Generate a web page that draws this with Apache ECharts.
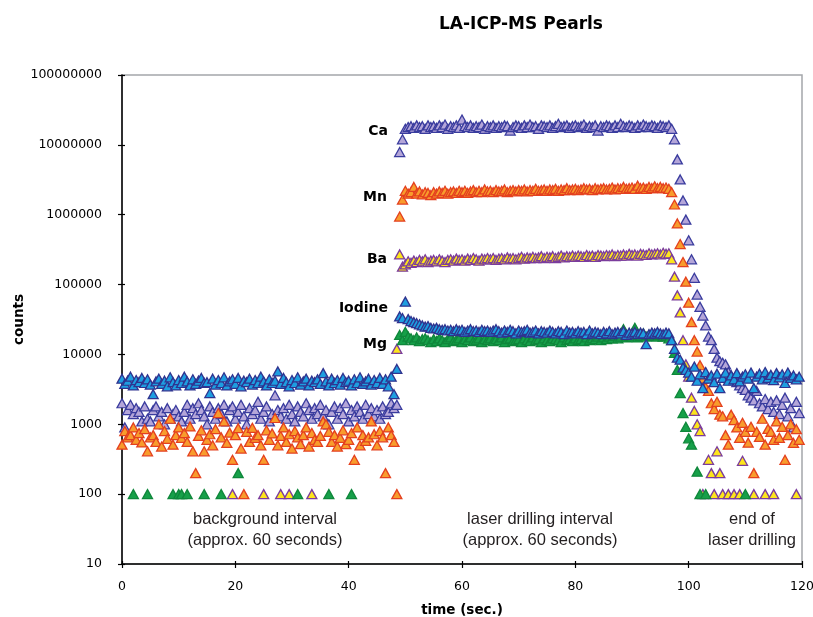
<!DOCTYPE html>
<html>
<head>
<meta charset="utf-8">
<title>LA-ICP-MS Pearls</title>
<script src="https://cdn.jsdelivr.net/npm/echarts@6/dist/echarts.min.js"></script>
<style>
    html, body { margin: 0; padding: 0; background: #fff; }
    #chart { width: 813px; height: 617px; }
</style>
</head>
<body>
<div id="chart"></div>
<script>
// sweep times (sec.)
const times = [
    0, 0.5, 1, 1.5, 2, 2.5, 3, 3.5, 4, 4.5,
    5, 5.5, 6, 6.5, 7, 7.5, 8, 8.5, 9, 9.5,
    10, 10.5, 11, 11.5, 12, 12.5, 13, 13.5, 14, 14.5,
    15, 15.5, 16, 16.5, 17, 17.5, 18, 18.5, 19, 19.5,
    20, 20.5, 21, 21.5, 22, 22.5, 23, 23.5, 24, 24.5,
    25, 25.5, 26, 26.5, 27, 27.5, 28, 28.5, 29, 29.5,
    30, 30.5, 31, 31.5, 32, 32.5, 33, 33.5, 34, 34.5,
    35, 35.5, 36, 36.5, 37, 37.5, 38, 38.5, 39, 39.5,
    40, 40.5, 41, 41.5, 42, 42.5, 43, 43.5, 44, 44.5,
    45, 45.5, 46, 46.5, 47, 47.5, 48, 48.5, 49, 49.5,
    50, 50.5, 51, 51.5, 52, 52.5, 53, 53.5, 54, 54.5,
    55, 55.5, 56, 56.5, 57, 57.5, 58, 58.5, 59, 59.5,
    60, 60.5, 61, 61.5, 62, 62.5, 63, 63.5, 64, 64.5,
    65, 65.5, 66, 66.5, 67, 67.5, 68, 68.5, 69, 69.5,
    70, 70.5, 71, 71.5, 72, 72.5, 73, 73.5, 74, 74.5,
    75, 75.5, 76, 76.5, 77, 77.5, 78, 78.5, 79, 79.5,
    80, 80.5, 81, 81.5, 82, 82.5, 83, 83.5, 84, 84.5,
    85, 85.5, 86, 86.5, 87, 87.5, 88, 88.5, 89, 89.5,
    90, 90.5, 91, 91.5, 92, 92.5, 93, 93.5, 94, 94.5,
    95, 95.5, 96, 96.5, 97, 97.5, 98, 98.5, 99, 99.5,
    100, 100.5, 101, 101.5, 102, 102.5, 103, 103.5, 104, 104.5,
    105, 105.5, 106, 106.5, 107, 107.5, 108, 108.5, 109, 109.5,
    110, 110.5, 111, 111.5, 112, 112.5, 113, 113.5, 114, 114.5,
    115, 115.5, 116, 116.5, 117, 117.5, 118, 118.5, 119, 119.5
];

// counts per element, one value per sweep (null = zero counts, not plotted on log axis)
const ca = [
    2000, 900, 1600, 1900, 1400, 1700, 1500, 1100, 1800, 1200,
    1100, 1600, 1800, 1300, 1500, 1000, 1700, 1200, 1400, 1600,
    1300, 1100, 1500, 1900, 1200, 1700, 1400, 2000, 1600, 1300,
    1000, 1800, 1500, 1200, 1700, 1400, 1900, 1100, 1600, 1800,
    1200, 1500, 1900, 1300, 1000, 1700, 1400, 1600, 2100, 1200,
    1500, 1800, 1100, 1400, 2600, 1600, 1300, 1700, 1200, 1900,
    1400, 1100, 1800, 1500, 1300, 2000, 1600, 1200, 1700, 1400,
    1900, 1300, 1600, 1000, 1500, 1800, 1200, 1700, 1400, 2000,
    1100, 1600, 1300, 1800, 1500, 1200, 1900, 1400, 1700, 1300,
    1600, 1200, 1800, 1400, 1500, 2000, 1700, 1900, 7.9e6, 1.2e7,
    1.7e7, 1.8e7, 1.85e7, 1.75e7, 1.9e7, 1.8e7, 1.85e7, 1.7e7, 1.9e7, 1.8e7,
    1.85e7, 1.75e7, 1.9e7, 1.8e7, 1.95e7, 1.7e7, 1.85e7, 1.8e7, 1.9e7, 1.75e7,
    2.3e7, 1.85e7, 1.8e7, 1.9e7, 1.75e7, 1.85e7, 1.8e7, 1.95e7, 1.7e7, 1.85e7,
    1.8e7, 1.9e7, 1.75e7, 1.85e7, 1.8e7, 1.9e7, 1.85e7, 1.6e7, 1.8e7, 1.9e7,
    1.85e7, 1.75e7, 1.9e7, 1.8e7, 1.95e7, 1.8e7, 1.85e7, 1.7e7, 1.9e7, 1.85e7,
    1.8e7, 1.9e7, 1.75e7, 1.85e7, 2.0e7, 1.8e7, 1.85e7, 1.9e7, 1.75e7, 1.85e7,
    1.9e7, 1.8e7, 1.85e7, 1.95e7, 1.75e7, 1.85e7, 1.8e7, 1.9e7, 1.6e7, 1.85e7,
    1.8e7, 1.9e7, 1.85e7, 1.75e7, 1.9e7, 1.8e7, 2.0e7, 1.85e7, 1.8e7, 1.9e7,
    1.85e7, 1.75e7, 1.9e7, 1.8e7, 1.95e7, 1.85e7, 1.8e7, 1.9e7, 1.85e7, 1.75e7,
    1.9e7, 1.85e7, 1.8e7, 1.9e7, 1.7e7, 1.2e7, 6.2e6, 3.2e6, 1.6e6, 8.5e5,
    4.3e5, 2.3e5, 1.25e5, 7.2e4, 4.8e4, 3.6e4, 2.6e4, 1.8e4, 1.6e4, 1.2e4,
    9000, 8000, 7600, 7200, 5600, 5000, 4300, 4000, 3600, 3300,
    3100, 2600, 2400, 2200, 3000, 2000, 1800, 2300, 1650, 2100,
    1500, 2200, 1400, 1900, 2400, 1300, 1700, 900, 2100, 1450
];

const mn = [
    510, 800, 650, 700, 900, 600, 750, 550, 850, 410,
    650, 700, 560, 1000, 480, 800, 620, 1200, 510, 700,
    900, 640, 750, 560, 930, 410, 200, 680, 820, 410,
    600, 720, 500, 850, 1450, 650, 1100, 540, 760, 310,
    700, 880, 450, 100, 780, 560, 890, 640, 700, 500,
    310, 820, 600, 740, 1230, 500, 680, 900, 560, 720,
    450, 800, 650, 520, 700, 900, 480, 750, 600, 560,
    680, 1100, 1000, 780, 560, 700, 480, 640, 820, 520,
    600, 750, 310, 900, 500, 700, 580, 650, 1100, 720,
    500, 800, 650, 200, 900, 700, 560, 100, 9.4e5, 1.65e6,
    2.2e6, 2.0e6, 2.1e6, 2.5e6, 2.0e6, 2.15e6, 1.95e6, 2.1e6, 2.05e6, 1.9e6,
    2.1e6, 2.0e6, 2.15e6, 2.05e6, 2.2e6, 2.0e6, 2.1e6, 2.15e6, 2.05e6, 2.2e6,
    2.1e6, 2.2e6, 2.05e6, 2.15e6, 2.25e6, 2.1e6, 2.2e6, 2.1e6, 2.3e6, 2.15e6,
    2.2e6, 2.1e6, 2.25e6, 2.15e6, 2.2e6, 2.3e6, 2.1e6, 2.2e6, 2.25e6, 2.15e6,
    2.25e6, 2.2e6, 2.3e6, 2.15e6, 2.25e6, 2.2e6, 2.35e6, 2.2e6, 2.25e6, 2.3e6,
    2.2e6, 2.3e6, 2.25e6, 2.35e6, 2.2e6, 2.3e6, 2.25e6, 2.4e6, 2.25e6, 2.3e6,
    2.35e6, 2.25e6, 2.3e6, 2.4e6, 2.3e6, 2.35e6, 2.25e6, 2.4e6, 2.3e6, 2.35e6,
    2.4e6, 2.3e6, 2.35e6, 2.45e6, 2.3e6, 2.4e6, 2.35e6, 2.5e6, 2.35e6, 2.4e6,
    2.45e6, 2.35e6, 2.6e6, 2.4e6, 2.45e6, 2.35e6, 2.5e6, 2.4e6, 2.55e6, 2.4e6,
    2.5e6, 2.4e6, 2.45e6, 2.35e6, 2.1e6, 1.4e6, 7.5e5, 3.8e5, 2.1e5, 1.1e5,
    5.5e4, 2.9e4, 1.6e4, 1.1e4, 7000, 4500, 3400, 3000, 2000, 1650,
    2100, 1370, 1300, 700, 510, 1370, 1150, 900, 640, 1050,
    780, 545, 920, 200, 780, 660, 1200, 510, 860, 780,
    600, 1100, 640, 920, 310, 700, 1000, 540, 850, 600
];

const ba = [
    null, null, null, null, null, null, null, null, null, null,
    null, null, null, null, null, null, null, null, null, null,
    null, null, null, null, null, null, null, null, null, null,
    null, null, null, null, null, null, null, null, null, 100,
    null, null, null, null, null, null, null, null, null, null,
    100, null, null, null, null, null, 100, null, null, 100,
    null, null, null, null, null, null, null, 100, null, null,
    null, null, null, null, null, null, null, null, null, null,
    null, null, null, null, null, null, null, null, null, null,
    null, null, null, null, null, null, null, 1.2e4, 2.7e5, 1.8e5,
    1.95e5, 2.15e5, 2.05e5, 2.2e5, 2.1e5, 2.25e5, 2.15e5, 2.3e5, 2.1e5, 2.2e5,
    2.25e5, 2.15e5, 2.3e5, 2.2e5, 2.1e5, 2.25e5, 2.3e5, 2.2e5, 2.35e5, 2.25e5,
    2.3e5, 2.2e5, 2.35e5, 2.25e5, 2.4e5, 2.3e5, 2.2e5, 2.35e5, 2.3e5, 2.4e5,
    2.3e5, 2.4e5, 2.25e5, 2.35e5, 2.4e5, 2.3e5, 2.45e5, 2.35e5, 2.4e5, 2.3e5,
    2.4e5, 2.5e5, 2.35e5, 2.45e5, 2.4e5, 2.5e5, 2.4e5, 2.45e5, 2.55e5, 2.4e5,
    2.5e5, 2.45e5, 2.55e5, 2.4e5, 2.5e5, 2.6e5, 2.45e5, 2.55e5, 2.5e5, 2.6e5,
    2.5e5, 2.6e5, 2.55e5, 2.5e5, 2.65e5, 2.55e5, 2.6e5, 2.5e5, 2.65e5, 2.6e5,
    2.55e5, 2.65e5, 2.6e5, 2.7e5, 2.55e5, 2.65e5, 2.6e5, 2.7e5, 2.6e5, 2.75e5,
    2.65e5, 2.7e5, 2.6e5, 2.75e5, 2.7e5, 2.65e5, 2.8e5, 2.7e5, 2.75e5, 2.8e5,
    2.7e5, 2.85e5, 2.75e5, 2.8e5, 2.3e5, 1.3e5, 7.0e4, 4.0e4, 1.6e4, 7200,
    4800, 2400, 1550, 1000, 800, 100, null, 310, 200, 100,
    410, 200, 100, null, 100, null, 100, null, 100, 300,
    null, null, null, 100, null, null, null, 100, null, null,
    100, null, null, null, null, null, null, null, 100, null
];

const iodine = [
    4500, 3800, 4200, 4800, 3600, 4300, 4000, 4600, 3900, 4400,
    3700, 2700, 4100, 4500, 3800, 4200, 3500, 4700, 4000, 3600,
    4300, 3900, 4800, 4100, 3600, 4400, 3800, 4200, 4600, 3900,
    4000, 2800, 4500, 3700, 4300, 3900, 4700, 3600, 4100, 4400,
    3800, 4600, 3500, 4200, 4000, 4500, 3700, 4300, 3900, 4800,
    4100, 3600, 4400, 3900, 4200, 5700, 3800, 4600, 4000, 3500,
    4300, 3900, 4700, 3700, 4100, 4500, 3600, 4200, 4000, 4400,
    3800, 5400, 4100, 3600, 4500, 3900, 4300, 3700, 4600, 4000,
    4200, 3600, 4400, 3900, 4700, 3800, 4100, 4500, 3700, 4300,
    3900, 4600, 3800, 4400, 3500, 4800, 2700, 6200, 3.5e4, 3.3e4,
    5.7e4, 3.2e4, 3.0e4, 2.9e4, 2.8e4, 2.7e4, 2.6e4, 2.5e4, 2.55e4, 2.4e4,
    2.35e4, 2.4e4, 2.3e4, 2.25e4, 2.3e4, 2.2e4, 2.25e4, 2.15e4, 2.3e4, 2.2e4,
    2.25e4, 2.1e4, 2.2e4, 2.3e4, 2.15e4, 2.2e4, 2.1e4, 2.25e4, 2.15e4, 2.2e4,
    2.1e4, 2.2e4, 2.3e4, 2.15e4, 2.05e4, 2.2e4, 2.1e4, 2.25e4, 2.15e4, 2.0e4,
    2.2e4, 2.1e4, 2.15e4, 2.25e4, 2.05e4, 2.1e4, 2.2e4, 2.0e4, 2.15e4, 2.1e4,
    2.05e4, 2.2e4, 2.1e4, 2.0e4, 2.15e4, 2.1e4, 1.95e4, 2.2e4, 2.05e4, 2.1e4,
    2.0e4, 2.15e4, 2.05e4, 2.1e4, 1.95e4, 2.2e4, 2.0e4, 2.1e4, 2.05e4, 1.95e4,
    2.1e4, 2.0e4, 2.15e4, 1.95e4, 2.05e4, 2.1e4, 2.0e4, 2.15e4, 1.9e4, 2.05e4,
    2.0e4, 2.1e4, 1.95e4, 2.05e4, 2.0e4, 1.4e4, 1.95e4, 2.05e4, 2.0e4, 2.1e4,
    2.0e4, 1.95e4, 2.05e4, 2.0e4, 1.6e4, 1.2e4, 9000, 8400, 6500, 6000,
    5500, 4800, 6700, 4200, 5200, 3300, 5600, 4500, 5000, 4000,
    5300, 3300, 4600, 5500, 4200, 5000, 4400, 5400, 4100, 4800,
    5200, 4500, 5500, 3300, 4800, 5300, 4400, 5600, 4600, 5100,
    4300, 5400, 4700, 5200, 3900, 5500, 4600, 5000, 4400, 4800
];

const mg = [
    null, null, null, null, 100, null, null, null, null, 100,
    null, null, null, null, null, null, null, null, 100, null,
    100, 100, null, 100, null, null, null, null, null, 100,
    null, null, null, null, null, 100, null, null, null, null,
    null, 200, null, null, null, null, null, null, null, null,
    null, null, null, null, null, null, null, null, null, null,
    null, null, 100, null, null, null, null, null, null, null,
    null, null, null, 100, null, null, null, null, null, null,
    null, 100, null, null, null, null, null, null, null, null,
    null, null, null, null, null, null, null, null, 1.9e4, 1.6e4,
    2.1e4, 1.8e4, 1.7e4, 1.6e4, 1.75e4, 1.55e4, 1.65e4, 1.7e4, 1.6e4, 1.5e4,
    1.65e4, 1.55e4, 1.7e4, 1.6e4, 1.5e4, 1.65e4, 1.75e4, 1.55e4, 1.6e4, 1.7e4,
    1.5e4, 1.65e4, 1.6e4, 1.75e4, 1.55e4, 1.6e4, 1.7e4, 1.5e4, 1.65e4, 1.6e4,
    1.7e4, 1.55e4, 1.65e4, 1.6e4, 1.75e4, 1.5e4, 1.65e4, 1.7e4, 1.55e4, 1.6e4,
    1.65e4, 1.5e4, 1.7e4, 1.6e4, 1.55e4, 1.75e4, 1.6e4, 1.65e4, 1.5e4, 1.7e4,
    1.6e4, 1.55e4, 1.7e4, 1.65e4, 1.6e4, 1.5e4, 1.75e4, 1.6e4, 1.65e4, 1.55e4,
    1.7e4, 1.6e4, 1.65e4, 1.55e4, 1.75e4, 1.6e4, 1.7e4, 1.65e4, 1.8e4, 1.6e4,
    1.75e4, 1.65e4, 1.8e4, 1.7e4, 1.85e4, 1.7e4, 1.8e4, 2.3e4, 1.75e4, 1.85e4,
    1.8e4, 2.4e4, 1.75e4, 1.85e4, 2.0e4, 1.8e4, 1.9e4, 1.85e4, 1.95e4, 1.8e4,
    1.9e4, 1.8e4, 1.85e4, 1.7e4, 1.6e4, 1.05e4, 6000, 2800, 1450, 920,
    630, 510, null, 210, 100, null, 100, null, null, null,
    null, null, null, null, null, null, null, null, null, null,
    100, null, null, null, null, null, null, null, null, null,
    null, null, null, null, null, null, null, null, null, null
];

const xTicks = [0, 20, 40, 60, 80, 100, 120];
const yMin = 10;
const yMax = 100000000;

const elements = [
    { name: 'Ca', values: ca, fill: '#b4a6d9', stroke: '#3a3c9e' },
    { name: 'Ba', values: ba, fill: '#fde51c', stroke: '#7b3c9c' },
    { name: 'Mg', values: mg, fill: '#16a049', stroke: '#0f873b' },
    { name: 'Mn', values: mn, fill: '#f89c2c', stroke: '#e4401f' },
    { name: 'Iodine', values: iodine, fill: '#1e9ee0', stroke: '#2f338f' }
];

const annotations = [
    { text: 'Ca', x: 388, y: 131 },
    { text: 'Mn', x: 387, y: 197 },
    { text: 'Ba', x: 387, y: 259 },
    { text: 'Iodine', x: 388, y: 308 },
    { text: 'Mg', x: 387, y: 344 }
];

const notes = [
    { text: 'background interval', x: 265, y: 519 },
    { text: '(approx. 60 seconds)', x: 265, y: 540 },
    { text: 'laser drilling interval', x: 540, y: 519 },
    { text: '(approx. 60 seconds)', x: 540, y: 540 },
    { text: 'end of', x: 752, y: 519 },
    { text: 'laser drilling', x: 752, y: 540 }
];

elements.forEach((el) => {
    if (el.values.length !== times.length) {
        throw new Error(el.name + ' has ' + el.values.length + ' values, expected ' + times.length);
    }
});

const toPoints = (values) =>
    times.map((t, i) => [t, values[i]]).filter((p) => p[1] != null);

const axisFont = { fontFamily: 'DejaVu Sans', fontSize: 12.5, color: '#000' };

const createOption = () => ({
    animation: false,
    backgroundColor: '#fff',
    title: {
        text: 'LA-ICP-MS Pearls',
        left: 516,
        top: 11,
        textAlign: 'center',
        textStyle: {
            fontFamily: 'DejaVu Sans',
            fontWeight: 'bold',
            fontSize: 17,
            color: '#000',
        },
    },
    grid: {
        left: 122,
        right: 11,
        top: 75,
        bottom: 53,
        show: true,
        borderColor: '#a4a7aa',
        borderWidth: 1.5,
        outerBoundsMode: 'none',
    },
    xAxis: [
        {
            type: 'value',
            min: xTicks[0],
            max: xTicks[xTicks.length - 1],
            interval: xTicks[1] - xTicks[0],
            name: 'time (sec.)',
            nameLocation: 'middle',
            nameGap: 39,
            nameMoveOverlap: false,
            nameTextStyle: {
                fontFamily: 'DejaVu Sans',
                fontWeight: 'bold',
                fontSize: 13.5,
                color: '#000',
            },
            axisLine: { show: true, lineStyle: { color: '#000', width: 1.5 } },
            axisTick: { show: true, length: 4, lineStyle: { color: '#000', width: 1.2 } },
            axisLabel: { ...axisFont, margin: 16 },
            splitLine: { show: false },
        },
        {
            // inner half of the crossing tick marks
            type: 'value',
            position: 'bottom',
            min: xTicks[0],
            max: xTicks[xTicks.length - 1],
            interval: xTicks[1] - xTicks[0],
            axisLine: { show: false },
            axisTick: { show: true, inside: true, length: 3, lineStyle: { color: '#000', width: 1.2 } },
            axisLabel: { show: false },
            splitLine: { show: false },
        },
    ],
    yAxis: [
        {
            type: 'log',
            logBase: 10,
            min: yMin,
            max: yMax,
            name: 'counts',
            nameLocation: 'middle',
            nameGap: 96,
            nameMoveOverlap: false,
            nameTextStyle: {
                fontFamily: 'DejaVu Sans',
                fontWeight: 'bold',
                fontSize: 13.5,
                color: '#000',
            },
            axisLine: { show: true, lineStyle: { color: '#000', width: 1.5 } },
            axisTick: { show: true, length: 4, lineStyle: { color: '#000', width: 1.2 } },
            axisLabel: {
                ...axisFont,
                margin: 20,
                formatter: (v) => String(Math.round(v)),
            },
            splitLine: { show: false },
            minorTick: { show: false },
        },
        {
            type: 'log',
            logBase: 10,
            position: 'left',
            min: yMin,
            max: yMax,
            axisLine: { show: false },
            axisTick: { show: true, inside: true, length: 3, lineStyle: { color: '#000', width: 1.2 } },
            axisLabel: { show: false },
            splitLine: { show: false },
        },
    ],
    series: elements.map((el) => ({
        name: el.name,
        type: 'scatter',
        xAxisIndex: 0,
        yAxisIndex: 0,
        symbol: 'triangle',
        symbolSize: [10, 9],
        data: toPoints(el.values),
        itemStyle: {
            color: el.fill,
            borderColor: el.stroke,
            borderWidth: 1.3,
            opacity: 1,
        },
        emphasis: { disabled: true },
    })),
    graphic: [
        ...annotations.map((a) => ({
            type: 'text',
            z: 100,
            style: {
                text: a.text,
                x: a.x,
                y: a.y,
                align: 'right',
                textAlign: 'right',
                verticalAlign: 'middle',
                textVerticalAlign: 'middle',
                fontFamily: 'DejaVu Sans',
                fontWeight: 'bold',
                fontSize: 14,
                fill: '#000',
            },
        })),
        ...notes.map((n) => ({
            type: 'text',
            z: 100,
            style: {
                text: n.text,
                x: n.x,
                y: n.y,
                align: 'center',
                textAlign: 'center',
                verticalAlign: 'middle',
                textVerticalAlign: 'middle',
                fontFamily: 'Liberation Sans',
                fontSize: 16.5,
                fill: '#231f20',
            },
        })),
    ],
});

const chart = echarts.init(document.getElementById('chart'), null, { renderer: 'canvas' });
chart.setOption(createOption());
</script>
</body>
</html>
